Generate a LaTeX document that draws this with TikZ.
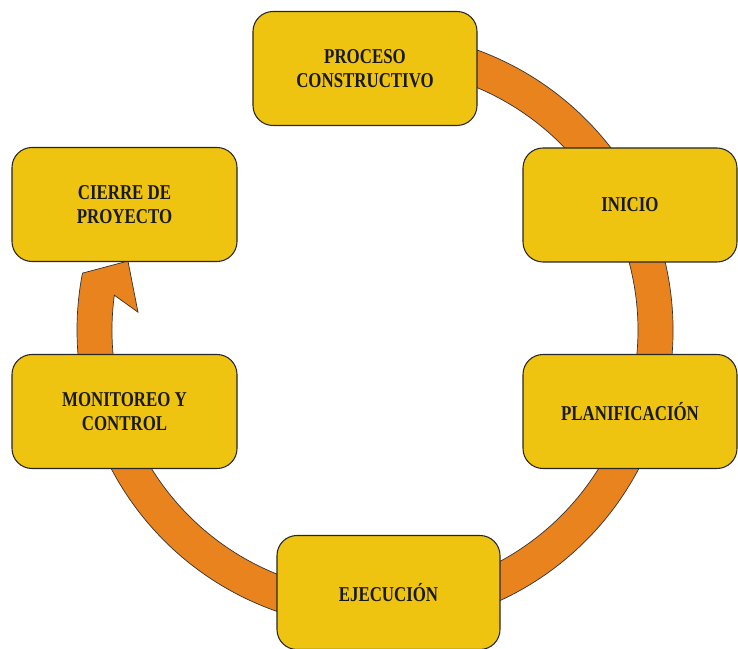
\documentclass[tikz,border=0pt]{standalone}
\usepackage{fontspec}
\setmainfont{Liberation Serif}[FakeStretch=0.8]
\usepackage{tikz}
\definecolor{amarillo}{RGB}{238,196,16}
\definecolor{naranja}{RGB}{233,131,30}
\tikzset{etapa/.style={draw=black!85, line width=0.9pt, fill=amarillo,
    rounded corners=0.6cm, minimum height=3.42cm, align=center,
    font=\bfseries\fontsize{18}{21}\selectfont, text=black!90}}

\begin{document}
\begin{tikzpicture}[x=0.03cm, y=0.03cm]
\useasboundingbox (0,0) rectangle (738,648);
\coordinate (O) at (375,318);
%------------------ flecha circular
\filldraw[fill=naranja, draw=black!80, line width=0.6pt]
  (O) ++(100:298) arc[start angle=100, end angle=-191, radius=298]
  -- ([shift=(164.4:256.5)] O)
  -- ([shift=(175.7:237.7)] O)
  -- ([shift=(-187.6:263)] O)
  arc[start angle=-187.6, end angle=100, radius=263] -- cycle;
%------------------ etapas
\coordinate (A) at (365,579.5);
\coordinate (B) at (630,443);
\coordinate (C) at (630,236.5);
\coordinate (D) at (388.5,55.5);
\coordinate (E) at (124.5,236.5);
\coordinate (F) at (124.5,443.5);
\foreach \c/\w/\t in {A/6.72/{PROCESO\\CONSTRUCTIVO}, B/6.42/INICIO,
    C/6.42/PLANIFICACIÓN, D/6.69/EJECUCIÓN,
    E/6.75/{MONITOREO Y\\CONTROL}, F/6.75/{CIERRE DE\\PROYECTO}}{
  \node[etapa, minimum width=\w cm] (n\c) at (\c) {\t};
}
\end{tikzpicture}
\end{document}
